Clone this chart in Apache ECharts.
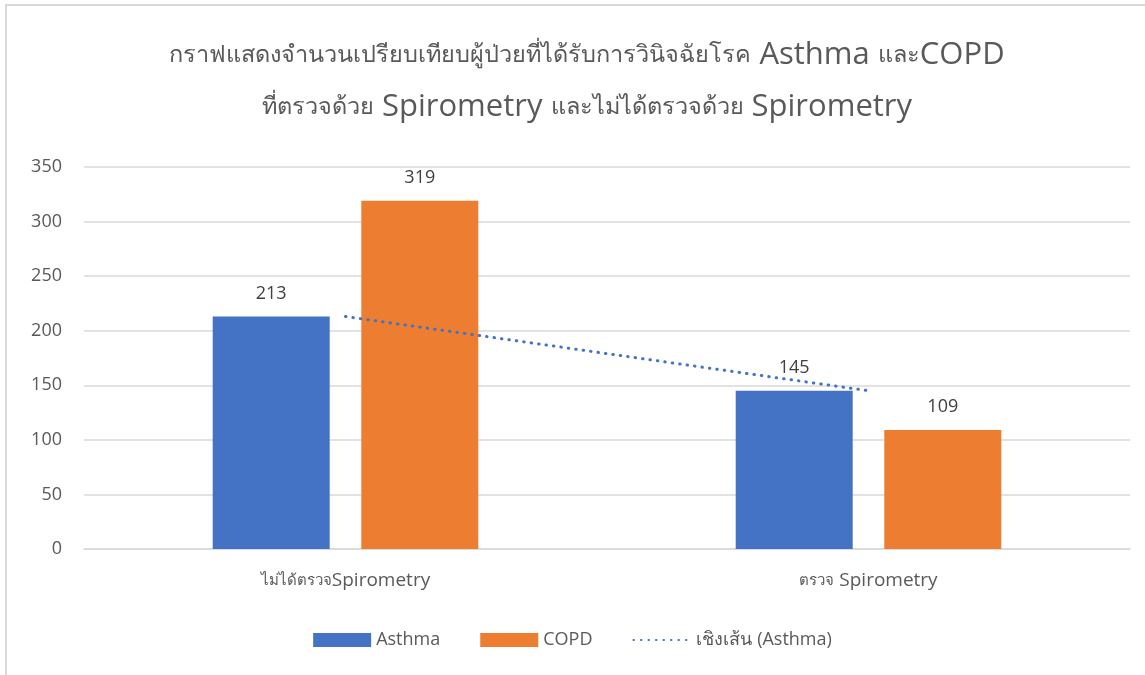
<!DOCTYPE html>
<html>
<head>
<meta charset="utf-8">
<script src="https://cdn.jsdelivr.net/npm/echarts@6/dist/echarts.min.js"></script>
<style>
html,body{margin:0;padding:0;background:#fff;}
#c{width:1145px;height:675px;}
</style>
</head>
<body>
<div id="c"></div>
<script>
const categories = ['ไม่ได้ตรวจSpirometry', 'ตรวจ Spirometry'];
const asthma = [213, 145];
const copd = [319, 109];
const trendAsthma = [213, 145];
const titleLines = ['กราฟแสดงจำนวนเปรียบเทียบผู้ป่วยที่ได้รับการวินิจฉัยโรค Asthma และCOPD', 'ที่ตรวจด้วย Spirometry และไม่ได้ตรวจด้วย Spirometry'];

const FONT = '"Open Sans", "Noto Sans", "DejaVu Sans", sans-serif';

// wrap Thai runs as {t|..} and other runs as {l|..} for rich text
function richWrap(s) {
  return s.replace(/([\u0E00-\u0E7F]+)|([^\u0E00-\u0E7F]+)/g, function (m, thai, lat) {
    return thai ? '{t|' + thai + '}' : '{l|' + lat + '}';
  });
}

const chart = echarts.init(document.getElementById('c'));
chart.setOption({
  animation: false,
  backgroundColor: '#fff',
  textStyle: { fontFamily: FONT },
  graphic: [{
    type: 'rect', silent: true,
    shape: { x: 6, y: 5, width: 3000, height: 3000 },
    style: { fill: 'none', stroke: '#d9d9d9', lineWidth: 2 }
  }],
  title: {
    text: titleLines.map(richWrap).join('\n'),
    left: 582, top: 24, textAlign: 'center',
    textStyle: {
      fontFamily: FONT, fontSize: 26, fontWeight: 'normal', color: '#595959', lineHeight: 52,
      rich: {
        t: { fontFamily: FONT, fontSize: 23.5, color: '#595959', lineHeight: 52 },
        l: { fontFamily: FONT, fontSize: 31, color: '#595959', lineHeight: 52 }
      }
    }
  },
  legend: {
    bottom: 21, left: 'center',
    itemWidth: 58, itemHeight: 14, itemGap: 40,
    textStyle: { fontFamily: FONT, fontSize: 18, color: '#595959' },
    data: [
      { name: 'Asthma', icon: 'rect' },
      { name: 'COPD', icon: 'rect' },
      { name: 'เชิงเส้น (Asthma)', itemStyle: { opacity: 0 } }
    ]
  },
  grid: { left: 84, right: 15, top: 167, bottom: 126, containLabel: false },
  xAxis: {
    type: 'category', data: categories,
    axisLine: { lineStyle: { color: '#d9d9d9', width: 1.5 } },
    axisTick: { show: false },
    axisLabel: {
      fontFamily: FONT, fontSize: 17, color: '#595959', margin: 22,
      formatter: function (v) { return richWrap(v); },
      rich: {
        t: { fontFamily: FONT, fontSize: 15, color: '#595959' },
        l: { fontFamily: FONT, fontSize: 19, color: '#595959' }
      }
    }
  },
  yAxis: {
    type: 'value', min: 0, max: 350, interval: 50,
    axisLine: { show: false }, axisTick: { show: false },
    splitLine: { lineStyle: { color: '#d9d9d9', width: 1.5 } },
    axisLabel: { fontFamily: FONT, fontSize: 18, color: '#595959', margin: 22 }
  },
  series: [
    { name: 'Asthma', type: 'bar', data: asthma, barWidth: 117, barGap: '27%',
      itemStyle: { color: '#4472C4' },
      label: { show: true, position: 'top', distance: 14, fontFamily: FONT, fontSize: 18, color: '#404040' } },
    { name: 'COPD', type: 'bar', data: copd, barWidth: 117, barGap: '27%',
      itemStyle: { color: '#ED7D31' },
      label: { show: true, position: 'top', distance: 14, fontFamily: FONT, fontSize: 18, color: '#404040' } },
    { name: 'เชิงเส้น (Asthma)', type: 'line', data: trendAsthma, symbol: 'none', z: 5,
      itemStyle: { color: '#4472C4' },
      lineStyle: { color: '#4472C4', width: 3, type: [0.5, 7], cap: 'round' } }
  ]
});
</script>
</body>
</html>
